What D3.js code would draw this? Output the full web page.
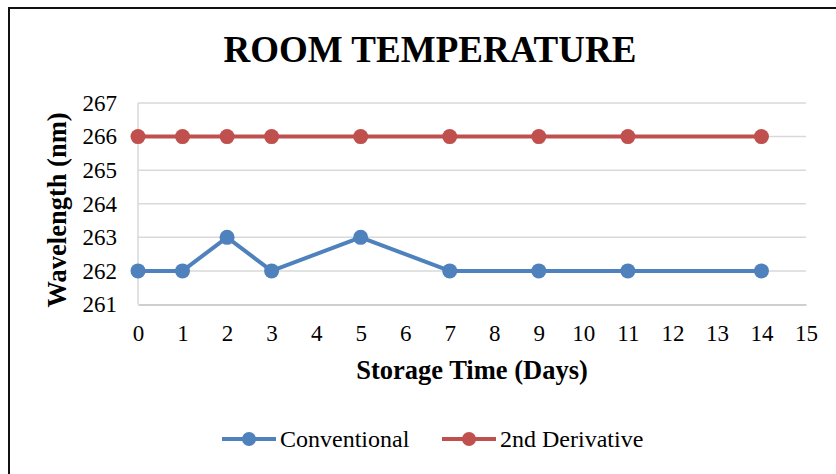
<!DOCTYPE html>
<html>
<head>
<meta charset="utf-8">
<script src="https://cdn.jsdelivr.net/npm/d3@7"></script>
<style>
  body { margin: 0; background: #fff; }
  text { font-family: "Liberation Serif", "Times New Roman", serif; fill: #000; }
</style>
</head>
<body>
<svg width="836" height="474"></svg>
<script>
// storage days and wavelengths
var days = [0, 1, 2, 3, 5, 7, 9, 11, 14];
var conventional = [262, 262, 263, 262, 263, 262, 262, 262, 262];
var secondDerivative = [266, 266, 266, 266, 266, 266, 266, 266, 266];
var xTicks = d3.range(0, 16);
var yTicks = [261, 262, 263, 264, 265, 266, 267];

var series = [
    { name: "Conventional", color: "#4F81BD", values: conventional },
    { name: "2nd Derivative", color: "#C0504D", values: secondDerivative }
];

var svg = d3.select("svg");

// outer frame (right and bottom edges fall outside the picture)
svg.append("rect")
    .attr("x", 9).attr("y", 8)
    .attr("width", 900).attr("height", 600)
    .attr("fill", "none")
    .attr("stroke", "#111")
    .attr("stroke-width", 2);

var x = d3.scaleLinear().domain([0, 15]).range([138, 806]);
var y = d3.scaleLinear().domain([261, 267]).range([304.5, 103]);

// gridlines
svg.append("g")
    .selectAll("line")
    .data(yTicks.slice(1))
    .enter()
    .append("line")
    .attr("x1", x(0)).attr("x2", x(15))
    .attr("y1", function (d) { return y(d); })
    .attr("y2", function (d) { return y(d); })
    .attr("stroke", "#D9D9D9")
    .attr("stroke-width", 1.5);

// left edge of plot
svg.append("line")
    .attr("x1", x(0)).attr("x2", x(0))
    .attr("y1", y(267)).attr("y2", y(261))
    .attr("stroke", "#D9D9D9")
    .attr("stroke-width", 1.5);

// x axis
var xAxis = svg.append("g")
    .attr("transform", "translate(0," + y(261) + ")")
    .call(d3.axisBottom(x).tickValues(xTicks).tickSize(0).tickPadding(20));
xAxis.select(".domain").attr("stroke", "#BFBFBF").attr("stroke-width", 1.5);
xAxis.selectAll("text")
    .style("font-family", "'Liberation Serif', serif")
    .style("font-size", "23px")
    .attr("fill", "#000");

// y axis
var yAxis = svg.append("g")
    .attr("transform", "translate(" + x(0) + ",0)")
    .call(d3.axisLeft(y).tickValues(yTicks).tickFormat(d3.format("d")).tickSize(0).tickPadding(21));
yAxis.select(".domain").remove();
yAxis.selectAll("text")
    .style("font-family", "'Liberation Serif', serif")
    .style("font-size", "23px")
    .attr("fill", "#000");

// title + axis titles
svg.append("text")
    .attr("x", 430).attr("y", 62)
    .attr("text-anchor", "middle")
    .style("font-size", "37px")
    .style("font-weight", "bold")
    .text("ROOM TEMPERATURE");

svg.append("text")
    .attr("x", 472).attr("y", 379)
    .attr("text-anchor", "middle")
    .style("font-size", "26.5px")
    .style("font-weight", "bold")
    .text("Storage Time (Days)");

svg.append("text")
    .attr("transform", "translate(66,210) rotate(-90)")
    .attr("text-anchor", "middle")
    .style("font-size", "26.5px")
    .style("font-weight", "bold")
    .text("Wavelength (nm)");

// lines and markers
var line = d3.line()
    .x(function (d) { return x(d.day); })
    .y(function (d) { return y(d.v); });

series.forEach(function (s) {
    var pts = days.map(function (dd, i) { return { day: dd, v: s.values[i] }; });
    var g = svg.append("g");
    g.append("path")
        .datum(pts)
        .attr("d", line)
        .attr("fill", "none")
        .attr("stroke", s.color)
        .attr("stroke-width", 4)
        .attr("stroke-linejoin", "round");
    g.selectAll("circle")
        .data(pts)
        .enter()
        .append("circle")
        .attr("cx", function (d) { return x(d.day); })
        .attr("cy", function (d) { return y(d.v); })
        .attr("r", 7.5)
        .attr("fill", s.color);
});

// legend
var legendX = [222, 442];
var leg = svg.selectAll(".legend")
    .data(series)
    .enter()
    .append("g")
    .attr("class", "legend")
    .attr("transform", function (d, i) { return "translate(" + legendX[i] + ",439)"; });
leg.append("line")
    .attr("x1", 0).attr("x2", 54)
    .attr("stroke", function (d) { return d.color; })
    .attr("stroke-width", 4);
leg.append("circle")
    .attr("cx", 27).attr("r", 7)
    .attr("fill", function (d) { return d.color; });
leg.append("text")
    .attr("x", 58).attr("dy", "0.33em")
    .style("font-size", "24px")
    .text(function (d) { return d.name; });
</script>
</body>
</html>
